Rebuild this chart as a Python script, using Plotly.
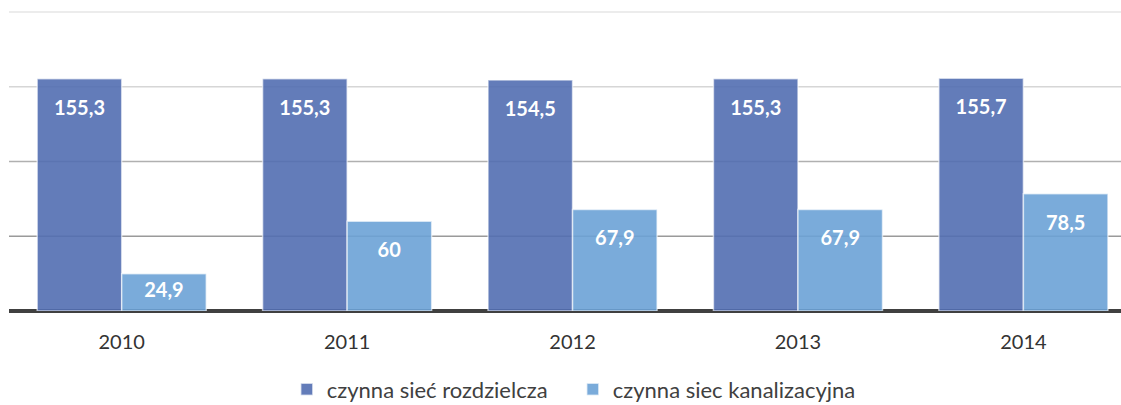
import plotly.graph_objects as go

years = ["2010", "2011", "2012", "2013", "2014"]
siec_rozdzielcza = [155.3, 155.3, 154.5, 155.3, 155.7]
siec_kanalizacyjna = [24.9, 60, 67.9, 67.9, 78.5]
series_names = ["czynna sieć rozdzielcza", "czynna siec kanalizacyjna"]
grid_values = [50, 100, 150, 200]
grid_colors = ["#9a9a9a", "#b0b0b0", "#d6d6d6", "#e6e6e6"]

def fmt(v):
    return ("%g" % v).replace(".", ",")

spacer = "<span style='font-size:7px'> </span><br>%{text}"

def templates(values):
    return [spacer if v > 40 else "%{text}" for v in values]

fig = go.Figure()
for vals, name, col in [(siec_rozdzielcza, series_names[0], "rgba(82,110,177,0.9)"),
                        (siec_kanalizacyjna, series_names[1], "rgba(107,162,214,0.9)")]:
    fig.add_trace(go.Bar(
        x=years, y=vals, name=name,
        marker=dict(color=col, line=dict(color="rgba(255,255,255,0.6)", width=1.5)),
        text=[fmt(v) for v in vals], texttemplate=templates(vals),
        textposition="inside", insidetextanchor="end", constraintext="none",
        textfont=dict(color="white", size=20, family="Lato", weight="bold"), textangle=0,
        hoverinfo="skip",
    ))

for gv, gc in zip(grid_values, grid_colors):
    fig.add_shape(type="line", xref="paper", yref="y", x0=0, x1=1, y0=gv, y1=gv,
                  line=dict(color=gc, width=1.5), layer="below")

fig.update_layout(
    width=1121, height=405,
    margin=dict(l=9, r=0, t=9, b=94, autoexpand=False),
    barmode="group", bargap=0.25, bargroupgap=0.0,
    plot_bgcolor="white", paper_bgcolor="white",
    font=dict(family="Lato", color="#333333", size=16),
    showlegend=True,
    legend=dict(orientation="h", x=0.507, xanchor="center", y=-0.19, yanchor="top",
                font=dict(size=22, color="#404040"), itemwidth=30, traceorder="normal",
                entrywidth=241, entrywidthmode="pixels", borderwidth=0),
    uniformtext=dict(mode=False),
)
fig.update_xaxes(range=[-0.5, 4.433], showgrid=False, showline=False, ticks="outside", ticklen=13,
                 tickcolor="rgba(0,0,0,0)", tickfont=dict(size=20, color="#333333"))
fig.update_yaxes(range=[0, 202], dtick=50, showgrid=False,
                 showticklabels=False, zeroline=True, zerolinecolor="#404040", zerolinewidth=3.5,
                 showline=False, ticks="")

fig.write_html("out.html", config={"displayModeBar": False, "responsive": False},
               post_script="document.body.style.margin='0';document.body.style.overflow='hidden';")
